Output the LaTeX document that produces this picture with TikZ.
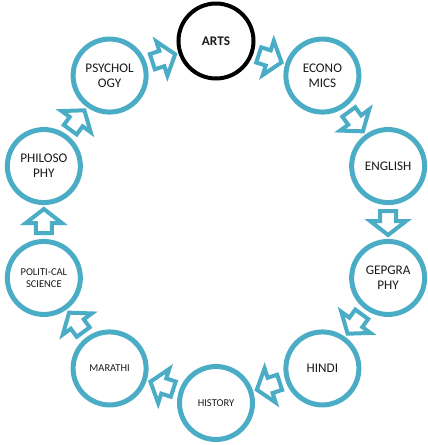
\documentclass[tikz,border=0pt]{standalone}
\usepackage{fontspec}
\setmainfont{Carlito}
\usetikzlibrary{calc}
\definecolor{aqua}{HTML}{4BACC6}
\tikzset{
	subject/.style={circle, draw=aqua, line width=5pt, minimum size=73pt, inner sep=0pt, align=center, text=black!90, font=\fontsize{13.2}{15}\selectfont},
	smalltext/.style={font=\fontsize{10.5}{11.5}\selectfont},
	blockarrow/.pic={
		\draw[aqua, fill=white, line width=4pt] (-11, -8) -- (-1, -8) -- (-1, -18) -- (13, 0) -- (-1, 18) -- (-1, 8) -- (-11, 8) -- cycle;
	}
}
\begin{document}
\begin{tikzpicture}[x=1pt, y=1pt]
		\useasboundingbox (-216, -223) rectangle (212, 222);

		\node[subject, draw=black, line width=4pt, minimum size=75pt, font=\fontsize{13.2}{15}\selectfont\bfseries] (arts) at (90:181) {ARTS};
		\node[subject] (econ) at (54:181) {ECONO\\MICS};
		\node[subject] (eng) at (18:181) {ENGLISH};
		\node[subject] (geo) at (-18:181) {GEPGRA\\PHY};
		\node[subject] (hindi) at (-54:181) {HINDI};
		\node[subject, smalltext] (hist) at (-90:181) {HISTORY};
		\node[subject, smalltext] (mar) at (-126:181) {MARATHI};
		\node[subject, smalltext] (pol) at (-162:181) {POLITI-CAL\\SCIENCE};
		\node[subject] (phil) at (162:181) {PHILOSO\\PHY};
		\node[subject] (psy) at (126:181) {PSYCHOL\\OGY};

		\pic[rotate=-18] at ($(arts)!0.5!(econ)$) {blockarrow};
		\pic[rotate=-54] at ($(econ)!0.5!(eng)$) {blockarrow};
		\pic[rotate=-90] at ($(eng)!0.5!(geo)$) {blockarrow};
		\pic[rotate=-126] at ($(geo)!0.5!(hindi)$) {blockarrow};
		\pic[rotate=-162] at ($(hindi)!0.5!(hist)$) {blockarrow};
		\pic[rotate=162] at ($(hist)!0.5!(mar)$) {blockarrow};
		\pic[rotate=126] at ($(mar)!0.5!(pol)$) {blockarrow};
		\pic[rotate=90] at ($(pol)!0.5!(phil)$) {blockarrow};
		\pic[rotate=54] at ($(phil)!0.5!(psy)$) {blockarrow};
		\pic[rotate=18] at ($(psy)!0.5!(arts)$) {blockarrow};
	\end{tikzpicture}
\end{document}
